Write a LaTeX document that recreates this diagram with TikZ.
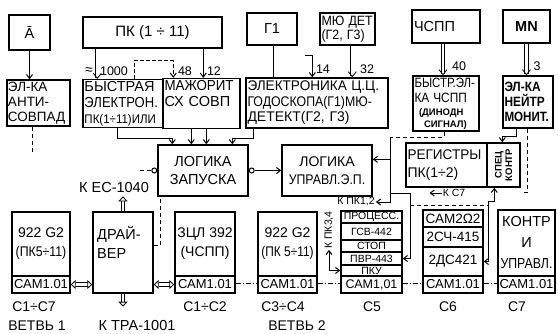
\documentclass[tikz,border=0pt]{standalone}
\usepackage{fontspec}
\usepackage{graphicx}
\setmainfont{Liberation Sans}
\usetikzlibrary{arrows.meta,calc}
\newcommand\sqz[2][0.88]{\scalebox{#1}[1]{#2}}
\newcommand\fsA{\fontsize{14}{15.5}\selectfont}
\newcommand\fsL{\fontsize{14.5}{16}\selectfont}
\newcommand\fsB{\fontsize{12.5}{14.5}\selectfont}
\newcommand\fsC{\fontsize{9.5}{10.5}\selectfont}
\newcommand\fsD{\fontsize{10.5}{11}\selectfont}
\begin{document}
\begin{tikzpicture}[x=1pt,y=-1pt,
  box/.style={draw, line width=1.4pt, inner sep=2pt, font=\fsA},
  row/.style={draw, line width=1.4pt, inner sep=0pt, font=\fsD, minimum width=61pt},
  arr/.style={line width=1pt, -{Straight Barb[length=4pt,width=6pt]}},
  arrtwo/.style={line width=1pt, {Straight Barb[length=4pt,width=6pt]}-{Straight Barb[length=4pt,width=6pt]}},
  dsh/.style={line width=1pt, dash pattern=on 4pt off 3pt},
  darr/.style={double, double distance=2.5pt, line width=0.8pt, -{Straight Barb[length=5pt,width=8pt]}},
  dline/.style={double, double distance=2.5pt, line width=0.8pt},
  harr/.style={double, double distance=2.5pt, line width=0.8pt, -{Triangle[open,length=5pt,width=9pt]}},
  hboth/.style={double, double distance=2.5pt, line width=0.8pt, {Triangle[open,length=5pt,width=9pt]}-{Triangle[open,length=5pt,width=9pt]}},
  dd/.style={double, double distance=2pt, line width=0.6pt, dash pattern=on 5pt off 2pt on 1pt off 2pt},
  lab/.style={font=\fsA, inner sep=1pt},
  inv/.style={circle, draw, line width=1pt, inner sep=0pt, minimum size=5pt}
]
\fill[white] (0,0) rectangle (558,333);
\useasboundingbox (0,0) rectangle (558,333);

% ---------- top row ----------
\node[box, minimum width=41pt, minimum height=35pt, font=\fsL] (abar) at (29.5,32.5) {Ā};
\node[box, minimum width=63pt, minimum height=46pt, inner sep=1pt, text width=61pt, align=left, font=\fontsize{13.5}{15}\selectfont] (anti) at (38.5,103) {ЭЛ-КА\\АНТИ-\\СОВПАД};
\node[box, minimum width=139pt, minimum height=31pt, font=\fontsize{15}{16}\selectfont] (pk) at (152.5,32.5) {ПК (1 ÷ 11)};
\node[box, minimum width=80pt, minimum height=47pt, inner sep=1.5pt, text width=77pt, align=left, font=\fsL] (fast) at (123,103.5) {\mbox{БЫСТРАЯ}\\\sqz[0.9]{ЭЛЕКТРОН.}\\{\fsB\sqz[0.92]{ПК(1÷11)ИЛИ}}};
\node[box, minimum width=77pt, minimum height=47pt, inner sep=1.5pt, text width=74pt, align=left, font=\fsL] (major) at (201.5,103.5) {\sqz[0.92]{МАЖОРИТ}\\\mbox{СХ СОВП}\\\strut};
\node[box, minimum width=50pt, minimum height=32pt, font=\fsL] (g1) at (272,29) {Г1};
\node[box, minimum width=55pt, minimum height=32pt, inner sep=1.5pt, text width=52pt, align=left, font=\fontsize{13.5}{14.5}\selectfont] (mu) at (347.5,29) {\sqz[0.92]{МЮ ДЕТ}\\\sqz[0.92]{(Г2, Г3)}};
\node[box, minimum width=142pt, minimum height=50pt, inner sep=1.5pt, text width=139pt, align=left, font=\fontsize{14}{15.5}\selectfont] (elec) at (317,103) {\sqz[0.97]{ЭЛЕКТРОНИКА Ц.Ц.}\\\sqz[0.88]{ГОДОСКОПА(Г1)МЮ-}\\\mbox{ДЕТЕКТ(Г2, Г3)}};
\node[box, minimum width=68pt, minimum height=33pt, text width=64pt, align=left, font=\fsL] (chspp) at (446,26.5) {ЧСПП};
\node[box, minimum width=47pt, minimum height=33pt, font=\fsL\bfseries] (mn) at (526.5,26.5) {MN};
\node[box, minimum width=66pt, minimum height=55pt, inner sep=1.5pt, text width=63pt, align=left, font=\fontsize{13.5}{15}\selectfont] (fchspp) at (446,103.5) {\sqz[0.85]{БЫСТР.ЭЛ-}\\\sqz[0.88]{КА ЧСПП}\\[-2pt]{\fsC\bfseries\ (ДИНОДН}\\[-3pt]{\fsC\bfseries\quad СИГНАЛ)}};
\node[box, minimum width=50pt, minimum height=52pt, inner sep=1.5pt, text width=47pt, align=left, font=\fontsize{13.5}{15}\selectfont\bfseries] (neutr) at (528,102) {\sqz{ЭЛ-КА}\\\sqz{НЕЙТР}\\\sqz[0.86]{МОНИТ.}};

% ---------- middle row ----------
\node[box, minimum width=90pt, minimum height=51pt, align=center, font=\fontsize{14.5}{18}\selectfont] (start) at (203,170.5) {ЛОГИКА\\ЗАПУСКА};
\node[box, minimum width=90pt, minimum height=51pt, align=center, font=\fontsize{14}{18}\selectfont] (ctrl) at (327,170.5) {ЛОГИКА\\\sqz{УПРАВЛ.Э.П.}};
\node[box, minimum width=81pt, minimum height=44pt, inner sep=1.5pt, text width=78pt, align=left, font=\fontsize{14}{18}\selectfont] (reg) at (446.5,165) {\sqz[0.97]{РЕГИСТРЫ}\\\mbox{ПК(1÷2)}};
\node[box, minimum width=33pt, minimum height=44pt] (spec) at (503.5,165) {};
\node[rotate=90, font=\fsC\bfseries, align=center, inner sep=0pt] (spectxt) at (spec) {СПЕЦ\\КОНТР};

% ---------- bottom row ----------
\node[box, minimum width=58pt, minimum height=64pt, align=center, font=\fontsize{14}{19}\selectfont] (b1) at (41,244) {922 G2\\\sqz{(ПК5÷11)}};
\node[box, minimum width=58pt, minimum height=17pt, inner sep=0pt, font=\fontsize{13}{14}\selectfont] (b1cam) at (41,284.5) {САМ1.01};
\node[box, minimum width=60pt, minimum height=81pt] (drv) at (123,252.5) {};
\node[anchor=north west, align=left, font=\fsL, inner sep=0pt] (drvtxt) at (97,226) {ДРАЙ-\\[3pt]ВЕР};
\node[box, minimum width=60pt, minimum height=64pt, align=center, font=\fontsize{14}{19}\selectfont] (b2) at (205,244) {ЗЦЛ 392\\(ЧСПП)};
\node[box, minimum width=60pt, minimum height=17pt, inner sep=0pt, font=\fontsize{13}{14}\selectfont] (b2cam) at (205,284.5) {САМ1.01};
\node[box, minimum width=59pt, minimum height=64pt, align=center, font=\fontsize{14}{19}\selectfont] (b3) at (287.5,244) {922 G2\\\sqz[0.85]{(ПК 5÷11)}};
\node[box, minimum width=59pt, minimum height=17pt, inner sep=0pt, font=\fontsize{13}{14}\selectfont] (b3cam) at (287.5,284.5) {САМ1.01};

\node[row, minimum height=12pt] (c5p) at (371.5,217) {ПРОЦЕСС.};
\node[row, minimum height=17pt] (c5g) at (371.5,231.5) {ГСВ-442};
\node[row, minimum height=12pt] (c5s) at (371.5,246) {СТОП};
\node[row, minimum height=13pt] (c5v) at (371.5,258.5) {ПВР-443};
\node[row, minimum height=11pt] (c5k) at (371.5,270.5) {ПКУ};
\node[row, minimum height=17pt, font=\fontsize{12.5}{13}\selectfont] (c5cam) at (371.5,284.5) {САМ1,01};

\node[box, minimum width=60pt, minimum height=17pt, inner sep=0pt, font=\fontsize{13.5}{14}\selectfont] (c6a) at (453,218.5) {САМ2Ω2};
\node[box, minimum width=60pt, minimum height=20pt, inner sep=0pt, font=\fontsize{13.5}{14}\selectfont] (c6b) at (453,237) {2СЧ-415};
\node[box, minimum width=60pt, minimum height=29pt, inner sep=0pt, font=\fontsize{13.5}{14}\selectfont] (c6c) at (453,261.5) {2ДС421};
\node[box, minimum width=60pt, minimum height=17pt, inner sep=0pt, font=\fontsize{13}{14}\selectfont] (c6cam) at (453,284.5) {САМ1.01};

\node[box, minimum width=57pt, minimum height=66pt, align=center, font=\fontsize{14.5}{21}\selectfont] (c7) at (526.5,243) {КОНТР\\И\\\sqz[0.85]{УПРАВЛ.}};
\node[box, minimum width=57pt, minimum height=17pt, inner sep=0pt, font=\fontsize{13}{14}\selectfont] (c7cam) at (526.5,284.5) {САМ1.01};

% ---------- labels ----------
\node[lab] (l1) at (34,307) {С1÷С7};
\node[lab] (v1) at (37,326) {ВЕТВЬ 1};
\node[lab] (l2) at (205,307) {С1÷С2};
\node[lab] (l3) at (283,307) {С3÷С4};
\node[lab] (v2) at (297,326) {ВЕТВЬ 2};
\node[lab] (l5) at (372,307) {С5};
\node[lab] (l6) at (448,307) {С6};
\node[lab] (l7) at (517,307) {С7};
\node[lab, font=\fsL] (ec) at (114,188) {К ЕС-1040};
\node[lab, font=\fsL] (tra) at (137,326) {К ТРА-1001};

% ---------- top connectors ----------
\draw[arr] (abar.south) -- (abar.south |- anti.north);
\draw[darr] ($(pk.south west)+(15,0)$) -- ($(fast.north west)+(15,0)$);
\node[lab] (approx) at (89,71) {≈};
\node[lab, font=\fsB] (n1000) at (114,71) {1000};
\draw[arr, dash pattern=on 4pt off 2pt] ($(fast.north west)+(52,0)$) -- ++(0,-18) -| ($(major.north west)+(11,0)$);
\node[lab, font=\fsB] (n48) at (185,71) {48};
\draw[arr] ($(pk.south west)+(121,0)$) -- ($(major.north west)+(41,0)$);
\node[lab, font=\fsB] (n12) at (214,71) {12};
\draw[dline] ($(g1.south west)+(29,0)$) -- ($(elec.north west)+(30,0)$);
\coordinate (s14) at (305,55);
\draw[arr] (s14) -| ($(elec.north west)+(67,0)$);
\node[lab, font=\fsB] (n14) at (323,69) {14};
\draw[darr] ($(mu.south west)+(33,0)$) -- ($(elec.north west)+(107,0)$);
\node[lab, font=\fsB] (n32) at (367,69) {32};
\draw[darr] ($(chspp.south)+(-3,0)$) -- ($(fchspp.north)+(-3,0)$);
\node[lab, font=\fsB] (n40) at (459,66) {40};
\draw[darr] (mn.south) -- (mn.south |- neutr.north);
\node[lab, font=\fsB] (n3) at (537,66) {3};

% ---------- middle connectors ----------
\draw[dsh] ($(anti.south west)+(26,0)$) -- ++(0,25) coordinate (antiend);
\node[inv, anchor=east] (inv1) at (start.west) {};
\coordinate (inv1in) at (140,170.5);
\draw[dsh] (inv1in) -- (inv1.west);
\node[inv, anchor=west] (inv2) at (start.east) {};
\draw[arr] (inv2.east) -- (ctrl.west);
\draw[arr] ($(fast.south west)+(35,0)$) -- ++(0,10) -| ($(start.north west)+(15,0)$);
\draw[arr] ($(major.south west)+(29,0)$) -- ($(start.north west)+(34,0)$);
\draw[arr] ($(major.south west)+(44,0)$) -- ($(start.north west)+(49,0)$);
\draw[arr] ($(elec.south west)+(8,0)$) -- ++(0,10) -| ($(start.north west)+(75,0)$);
\draw[dsh] ($(drv.north east)+(0,34)$) -| ($(start.south west)+(3,0)$);

\coordinate (busTop) at (390,137);
\draw[dsh] ($(fchspp.south)+(-2,0)$) |- (busTop);
\node[lab, font=\fsD] (pk12) at (356,202) {К ПК1,2};
\draw[arr] (busTop) -- (busTop |- pk12.east) -- (pk12.east);
\draw[arr] ($(ctrl.north east)+(18,15)$) -- ($(ctrl.north east)+(0,15)$);
\draw[arr] ($(busTop)+(0,56)$) -| ($(c5v.east)+(8,0)$) -- (c5v.east);
\coordinate (dj1) at (410,205);
\coordinate (dj2) at (488,205);
\draw[dsh] (dj1) -- (dj2);
\node[lab, font=\fsD, rotate=90] (pk34) at (329,230) {К ПК3,4};
\draw[arrtwo] (c5k.west) -| (pk34.west);
\node[lab, font=\fsD] (kc7) at (454,193) {К С7};
\draw[arr] (kc7.west) -- ++(-12,0);
\draw[arrtwo] ($(spec.south west)+(8,0)$) -- ++(0,14) -| ($(c6c.east)+(5,0)$) -- (c6c.east);
\draw[arr] ($(neutr.south west)+(14,0)$) -- ++(0,8) -| ($(spec.north west)+(16,0)$);
\draw[dsh] ($(neutr.south west)+(25,0)$) |- ($(spec.south east)+(2,5)$);

% ---------- bottom connectors ----------
\draw[harr] (drv.north) -- ++(0,-15);
\draw[harr] (drv.south) -- ++(0,13);
\draw[hboth] (b1cam.east) -- (b1cam.east -| drv.west);
\draw[hboth] (b2cam.west -| drv.east) -- (b2cam.west);
\draw[dd] (b2cam.east) -- (b3cam.west);
\draw[dd] (b3cam.east) -- (c5cam.west);
\draw[dd] (c5cam.east) -- (c6cam.west);
\draw[dd] (c6cam.east) -- (c7cam.west);
\end{tikzpicture}
\end{document}
